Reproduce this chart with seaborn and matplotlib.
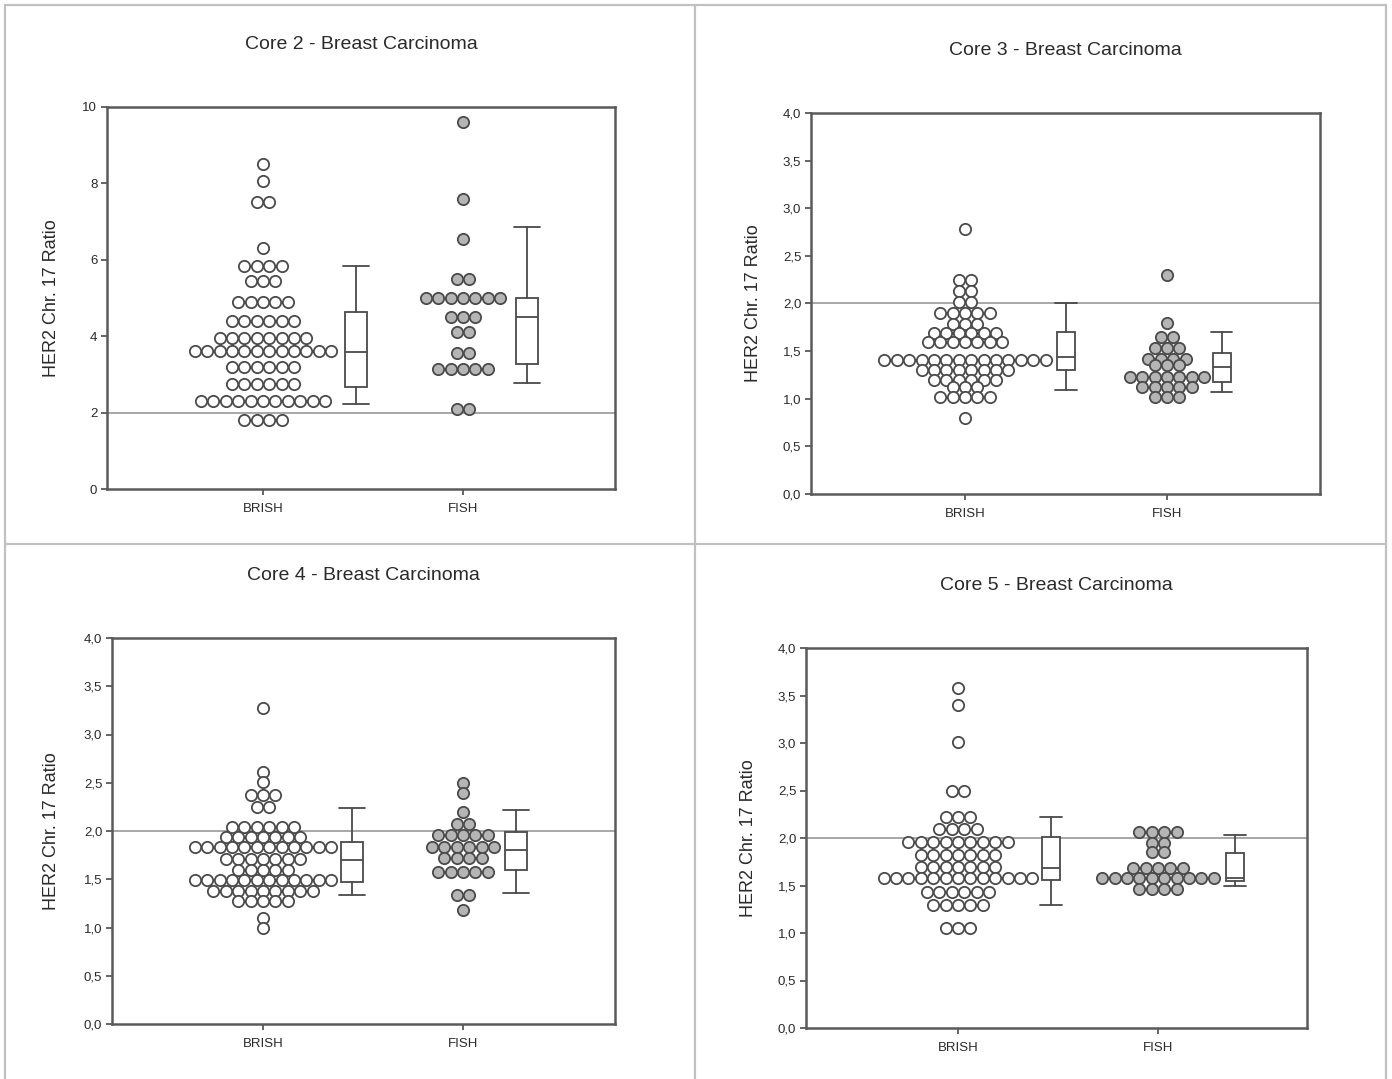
import numpy as np
import pandas as pd
import matplotlib
matplotlib.use("Agg")
import matplotlib.pyplot as plt
import seaborn as sns
from matplotlib.lines import Line2D
from matplotlib.ticker import FuncFormatter, MultipleLocator

sns.set_theme(style="white")
plt.rcParams['font.family'] = ['Liberation Sans', 'DejaVu Sans']

# ---------------- data ----------------
categories = ["BRISH", "FISH"]
titles = ["Core 2 - Breast Carcinoma", "Core 3 - Breast Carcinoma",
          "Core 4 - Breast Carcinoma", "Core 5 - Breast Carcinoma"]
ylabel = "HER2 Chr. 17 Ratio"
cutoff = 2.0

# each row of dots: value and number of cases with that value
core2_brish_vals = [8.5, 8.05, 7.5, 6.3, 5.85, 5.45, 4.9, 4.4, 3.95, 3.6, 3.2, 2.75, 2.3, 1.8]
core2_brish_counts = [1, 1, 2, 1, 4, 3, 5, 6, 8, 12, 6, 6, 11, 4]
core2_fish_vals = [9.6, 7.6, 6.55, 5.5, 5.0, 4.5, 4.1, 3.55, 3.15, 2.1]
core2_fish_counts = [1, 1, 1, 2, 7, 3, 2, 2, 5, 2]

core3_brish_vals = [2.78, 2.25, 2.13, 2.02, 1.9, 1.78, 1.69, 1.6, 1.41, 1.3, 1.2, 1.12, 1.02, 0.8]
core3_brish_counts = [1, 2, 2, 2, 5, 3, 6, 7, 14, 8, 6, 3, 5, 1]
core3_fish_vals = [2.3, 1.8, 1.65, 1.53, 1.42, 1.35, 1.23, 1.12, 1.02]
core3_fish_counts = [1, 1, 2, 3, 4, 3, 7, 5, 3]

core4_brish_vals = [3.27, 2.61, 2.51, 2.37, 2.25, 2.04, 1.94, 1.83, 1.71, 1.6, 1.49, 1.38, 1.27, 1.1, 1.0]
core4_brish_counts = [1, 1, 1, 3, 2, 6, 7, 12, 7, 5, 12, 9, 5, 1, 1]
core4_fish_vals = [2.5, 2.39, 2.2, 2.07, 1.96, 1.83, 1.72, 1.57, 1.34, 1.18]
core4_fish_counts = [1, 1, 1, 2, 5, 6, 4, 5, 2, 1]

core5_brish_vals = [3.58, 3.4, 3.01, 2.49, 2.22, 2.09, 1.96, 1.82, 1.7, 1.58, 1.43, 1.29, 1.05]
core5_brish_counts = [1, 1, 1, 2, 3, 4, 9, 7, 7, 13, 6, 5, 3]
core5_fish_vals = [2.06, 1.95, 1.85, 1.68, 1.58, 1.46]
core5_fish_counts = [4, 2, 2, 5, 10, 4]

# box plot stats: (whisker low, q1, median, q3, whisker high)
core2_brish_box = [2.22, 2.67, 3.59, 4.63, 5.84]
core2_fish_box = [2.78, 3.27, 4.50, 5.00, 6.86]
core3_brish_box = [1.09, 1.30, 1.44, 1.70, 2.00]
core3_fish_box = [1.07, 1.18, 1.33, 1.48, 1.70]
core4_brish_box = [1.34, 1.47, 1.70, 1.89, 2.24]
core4_fish_box = [1.36, 1.60, 1.80, 1.99, 2.22]
core5_brish_box = [1.29, 1.56, 1.68, 2.01, 2.22]
core5_fish_box = [1.49, 1.55, 1.58, 1.84, 2.03]

# ---------------- layout ----------------
W, H = 1392, 1079
fig = plt.figure(figsize=(W / 100, H / 100), dpi=100)

panels = [
    dict(title=titles[0], px=(107, 107, 615, 489), xlim=(-0.78, 1.76), ylim=(0, 10), step=2, dec=0,
         rows=[(core2_brish_vals, core2_brish_counts), (core2_fish_vals, core2_fish_counts)],
         boxes=[core2_brish_box, core2_fish_box], boff=(0.465, 0.32), bw=22, lab=47),
    dict(title=titles[1], px=(811, 113, 1320, 494), xlim=(-0.762, 1.757), ylim=(0, 4), step=0.5, dec=1,
         rows=[(core3_brish_vals, core3_brish_counts), (core3_fish_vals, core3_fish_counts)],
         boxes=[core3_brish_box, core3_fish_box], boff=(0.50, 0.27), bw=18, lab=49),
    dict(title=titles[2], px=(112, 638, 615, 1024), xlim=(-0.755, 1.76), ylim=(0, 4), step=0.5, dec=1,
         rows=[(core4_brish_vals, core4_brish_counts), (core4_fish_vals, core4_fish_counts)],
         boxes=[core4_brish_box, core4_fish_box], boff=(0.445, 0.265), bw=22, lab=52),
    dict(title=titles[3], px=(806, 648, 1307, 1028), xlim=(-0.76, 1.745), ylim=(0, 4), step=0.5, dec=1,
         rows=[(core5_brish_vals, core5_brish_counts), (core5_fish_vals, core5_fish_counts)],
         boxes=[core5_brish_box, core5_fish_box], boff=(0.465, 0.385), bw=18, lab=49),
]

DOT_PX = 12.4
EDGE = "#4a4a4a"
FACES = ["white", "#b5b5b5"]
TXT = "#2a2a2a"

for p in panels:
    l, t, r, b = p["px"]
    ax = fig.add_axes([l / W, 1 - b / H, (r - l) / W, (b - t) / H])
    ax.set_xlim(*p["xlim"])
    ax.set_ylim(*p["ylim"])
    ppu = (r - l) / (p["xlim"][1] - p["xlim"][0])
    dx = DOT_PX / ppu

    ax.axhline(cutoff, color="#a0a0a0", lw=1.3, zorder=1)

    for i, (vals, counts) in enumerate(p["rows"]):
        xs, ys = [], []
        for v, n in zip(vals, counts):
            offs = (np.arange(n) - (n - 1) / 2.0) * dx
            xs.extend(i + offs)
            ys.extend([v] * n)
        df = pd.DataFrame({"x": xs, "y": ys})
        sns.scatterplot(data=df, x="x", y="y", ax=ax, s=66, color=FACES[i],
                        edgecolor=EDGE, linewidth=1.3, legend=False, zorder=3)

    stats = []
    for bx in p["boxes"]:
        stats.append(dict(whislo=bx[0], q1=bx[1], med=bx[2], q3=bx[3], whishi=bx[4], fliers=[]))
    positions = [0 + p["boff"][0], 1 + p["boff"][1]]
    bwid = p["bw"] / ppu
    ax.bxp(stats, positions=positions, widths=bwid, capwidths=bwid * 1.2, patch_artist=True,
           showfliers=False, manage_ticks=False,
           boxprops=dict(facecolor="white", edgecolor=EDGE, linewidth=1.3),
           medianprops=dict(color=EDGE, linewidth=1.3),
           whiskerprops=dict(color=EDGE, linewidth=1.3),
           capprops=dict(color=EDGE, linewidth=1.3), zorder=2)

    ax.set_xticks([0, 1])
    ax.set_xticklabels(categories)
    ax.yaxis.set_major_locator(MultipleLocator(p["step"]))
    if p["dec"] == 0:
        ax.yaxis.set_major_formatter(FuncFormatter(lambda v, pos: f"{v:.0f}"))
    else:
        ax.yaxis.set_major_formatter(FuncFormatter(lambda v, pos: f"{v:.1f}".replace(".", ",")))
    ax.tick_params(axis="both", direction="out", length=4, width=1.2, color=EDGE,
                   labelsize=9.5, labelcolor=TXT, pad=3, left=True, bottom=True)
    ax.tick_params(axis="x", pad=6)
    for s in ax.spines.values():
        s.set_color("#5a5a5a")
        s.set_linewidth(1.8)
    ax.set_xlabel("")
    ax.set_ylabel(ylabel, fontsize=13, color=TXT)
    ax.yaxis.set_label_coords(-p["lab"] / (r - l), 0.5)
    ax.set_title(p["title"], fontsize=14, color=TXT, pad=42)
    ax.grid(False)
    ax.set_facecolor("white")

# table-like cell borders
LC = "#c0c0c0"
def fline(x0, y0, x1, y1):
    fig.add_artist(Line2D([x0 / W, x1 / W], [1 - y0 / H, 1 - y1 / H], transform=fig.transFigure,
                          color=LC, lw=1.6))
fline(5, 5, 1386, 5)
fline(5, 5, 5, 1079)
fline(1386, 5, 1386, 1079)
fline(695, 5, 695, 1079)
fline(5, 544, 1386, 544)

fig.savefig("out.png", dpi=100, facecolor="white")
